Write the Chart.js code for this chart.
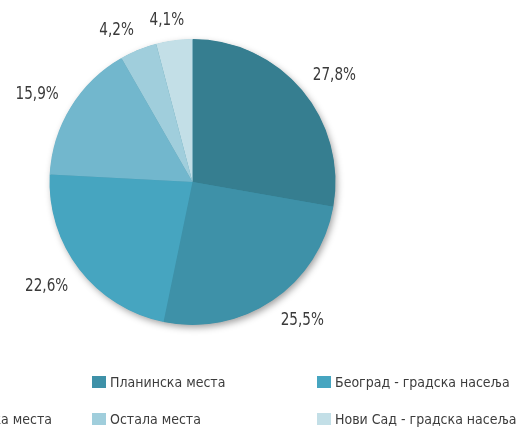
<!DOCTYPE html>
<html>
<head>
<meta charset="utf-8">
<script src="https://cdn.jsdelivr.net/npm/chart.js@4.4.1/dist/chart.umd.min.js"></script>
<style>
  html, body { margin: 0; padding: 0; background: #fff; }
  #wrap { position: relative; width: 516px; height: 428px; overflow: hidden; }
  #legend { position: absolute; left: 0; top: 0; width: 516px; height: 428px; pointer-events: none;
    font-family: 'DejaVu Sans Condensed', sans-serif; font-size: 14px; color: #3c3c3c; }
  .item { position: absolute; white-space: nowrap; display: flex; align-items: center; }
  .item span.box { display: inline-block; width: 14px; height: 12px; margin-right: 4px; }
</style>
</head>
<body>
<div id="wrap">
  <canvas id="chart" width="516" height="428"></canvas>
  <div id="legend"></div>
</div>
<script>
// data
const categories = ['Бањска места', 'Планинска места', 'Београд - градска насеља',
  'Остала туристичка места', 'Остала места', 'Нови Сад - градска насеља'];
const shares = [27.8, 25.5, 22.6, 15.9, 4.2, 4.1];
const colors = ['#367e90', '#3e91a8', '#46a5c0', '#72b7cd', '#a0cedc', '#c3dfe7'];

// legend grid: 3 columns, the first one is cut by the left edge
const legendCols = [null, 92, 317];
const firstColEnd = 52;
const legendRows = [383, 420];

const labelFont = '18px "DejaVu Sans Condensed", sans-serif';
const labelSqueeze = 0.84;

// soft shadow under the whole pie, drawn once so slices don't shade each other
const shadowPlugin = {
  id: 'pieShadow',
  beforeDatasetsDraw(chart) {
    const arc = chart.getDatasetMeta(0).data[0];
    if (!arc) return;
    const ctx = chart.ctx;
    ctx.save();
    ctx.shadowColor = 'rgba(0,0,0,0.38)';
    ctx.shadowBlur = 7;
    ctx.shadowOffsetX = 2;
    ctx.shadowOffsetY = 3;
    ctx.fillStyle = colors[1];
    ctx.beginPath();
    ctx.arc(arc.x, arc.y, arc.outerRadius - 0.5, 0, Math.PI * 2);
    ctx.fill();
    ctx.restore();
  }
};

const clamp = (v) => Math.max(-1, Math.min(1, v));

// percentage labels outside the pie, box corner kept a fixed gap from the rim
const outLabels = {
  id: 'outLabels',
  afterDraw(chart) {
    const ctx = chart.ctx;
    const meta = chart.getDatasetMeta(0);
    ctx.save();
    ctx.font = labelFont;
    ctx.fillStyle = '#3a3a3a';
    ctx.textAlign = 'center';
    ctx.textBaseline = 'middle';
    meta.data.forEach((arc, i) => {
      const txt = shares[i].toFixed(1).replace('.', ',') + '%';
      const hw = ctx.measureText(txt).width * labelSqueeze / 2;
      const hh = 7;
      const mid = (arc.startAngle + arc.endAngle) / 2;
      const c = Math.cos(mid), s = Math.sin(mid);
      const r = arc.outerRadius + 14;
      const x = arc.x + c * r + hw * clamp(c * 2.5);
      const y = arc.y + s * r + hh * clamp(s * 2.5);
      ctx.save();
      ctx.translate(x, y + 1);
      ctx.scale(labelSqueeze, 1);
      ctx.fillText(txt, 0, 0);
      ctx.restore();
    });
    ctx.restore();
  }
};

const chart = new Chart(document.getElementById('chart'), {
  type: 'pie',
  data: {
    labels: categories,
    datasets: [{
      data: shares,
      backgroundColor: colors,
      borderWidth: 0
    }]
  },
  options: {
    responsive: false,
    animation: false,
    layout: { padding: { left: 49, right: 180, top: 39, bottom: 103 } },
    plugins: {
      legend: { display: false },
      tooltip: { enabled: false }
    }
  },
  plugins: [shadowPlugin, outLabels]
});

// html legend built from the chart data
const legendEl = document.getElementById('legend');
const items = chart.data.labels.map((label, i) => {
  const div = document.createElement('div');
  div.className = 'item';
  div.style.top = (legendRows[Math.floor(i / 3)] - 9) + 'px';
  div.innerHTML = '<span class="box" style="background:' + chart.data.datasets[0].backgroundColor[i] + '"></span>' + label;
  legendEl.appendChild(div);
  return div;
});
let firstW = 0;
items.forEach((div, i) => { if (i % 3 === 0) firstW = Math.max(firstW, div.offsetWidth); });
items.forEach((div, i) => {
  const col = i % 3;
  div.style.left = (col === 0 ? firstColEnd - firstW : legendCols[col]) + 'px';
});
</script>
</body>
</html>
